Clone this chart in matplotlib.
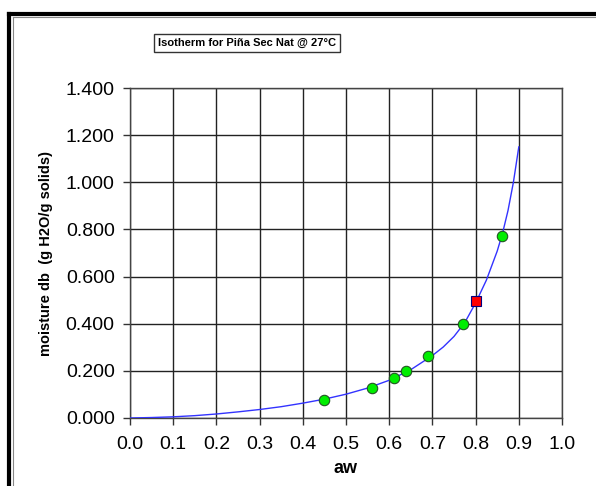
import matplotlib.pyplot as plt
from matplotlib.lines import Line2D

plt.rcParams['font.family'] = ['Liberation Sans', 'DejaVu Sans']

# measured points (aw, moisture db)
aw_pts = [0.45, 0.56, 0.61, 0.64, 0.69, 0.77, 0.86]
m_pts = [0.077, 0.127, 0.168, 0.198, 0.262, 0.399, 0.773]

# highlighted point
aw_sel = [0.80]
m_sel = [0.498]

# fitted isotherm
aw_fit = [0.00, 0.05, 0.10, 0.15, 0.20, 0.25, 0.30, 0.35, 0.40, 0.45,
          0.50, 0.55, 0.60, 0.65, 0.70, 0.725, 0.75, 0.775, 0.80, 0.825,
          0.85, 0.8625, 0.875, 0.8875, 0.90]
m_fit = [0.000, 0.002, 0.005, 0.010, 0.017, 0.026, 0.036, 0.048, 0.063, 0.080,
         0.101, 0.127, 0.160, 0.205, 0.265, 0.301, 0.346, 0.405, 0.488, 0.585,
         0.708, 0.785, 0.880, 1.000, 1.150]

x_ticks = [i / 10 for i in range(11)]
y_ticks = [0.0, 0.2, 0.4, 0.6, 0.8, 1.0, 1.2, 1.4]

fig = plt.figure(figsize=(5.96, 4.86), dpi=100)
ax = fig.add_axes([130 / 596, 1 - 418 / 486, 432 / 596, 330 / 486])

ax.plot(aw_fit, m_fit, color='#3333ff', lw=1.0, zorder=3)
ax.plot(aw_pts, m_pts, 'o', ms=7.5, mfc='#00ee00', mec='#225522', mew=0.8,
        ls='none', zorder=4)
ax.plot(aw_sel, m_sel, 's', ms=7.5, mfc='#ff0000', mec='#000080', mew=0.8,
        ls='none', zorder=5)

ax.set_xlim(0, 1.0)
ax.set_ylim(0, 1.4)
ax.set_xticks(x_ticks)
ax.set_yticks(y_ticks)
ax.set_xticklabels(['%.1f' % v for v in x_ticks], fontsize=14)
ax.set_yticklabels(['%.3f' % v for v in y_ticks], fontsize=14)
ax.tick_params(axis='x', direction='out', length=5, width=1, color='#333333', pad=8)
ax.tick_params(axis='y', direction='out', length=5, width=1, color='#333333', pad=6)
ax.grid(True, color='#222222', lw=1.0)
ax.set_axisbelow(True)
for s in ax.spines.values():
    s.set_color('#444444')
    s.set_linewidth(1.0)

ax.set_xlabel('aw', fontsize=13, fontweight='bold', labelpad=5)
ax.set_ylabel('moisture db  (g H2O/g solids)', fontsize=10.5,
              fontweight='bold', labelpad=9)

fig.text(247 / 596, 1 - 43 / 486, 'Isotherm for Piña Sec Nat @ 27°C',
         fontsize=8, fontweight='bold', ha='center', va='center',
         bbox=dict(boxstyle='square,pad=0.35', fc='white', ec='#333333', lw=1))

# outer frame (top and left edge)
fig.add_artist(Line2D([9 / 596, 1], [1 - 14.5 / 486, 1 - 14.5 / 486],
                      color='black', lw=3, transform=fig.transFigure))
fig.add_artist(Line2D([9 / 596, 9 / 596], [0, 1 - 14.5 / 486],
                      color='black', lw=3, transform=fig.transFigure))
fig.add_artist(Line2D([12.5 / 596, 12.5 / 596], [0, 1 - 17 / 486],
                      color='#888888', lw=0.8, transform=fig.transFigure))
fig.add_artist(Line2D([12.5 / 596, 1], [1 - 17.5 / 486, 1 - 17.5 / 486],
                      color='#888888', lw=0.8, transform=fig.transFigure))

fig.savefig('out.png', dpi=100)
